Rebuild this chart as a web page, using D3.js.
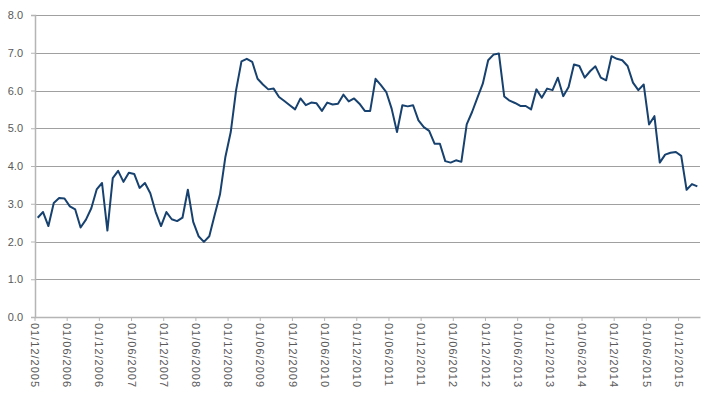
<!DOCTYPE html>
<html>
<head>
<meta charset="utf-8">
<script src="https://cdn.jsdelivr.net/npm/d3@7"></script>
<style>
  body { margin: 0; background: #fff; }
  svg { display: block; font-family: "DejaVu Sans", Verdana, sans-serif; }
</style>
</head>
<body>
<div class="chart"></div>
<script>
// monthly values, Dec 2005 .. Mar 2016
const startYear = 2005;
const startMonth = 11; // December (0-based)
const values = [
  2.63, 2.78, 2.41, 3.02, 3.15, 3.14, 2.93, 2.85, 2.37, 2.58, 2.88, 3.38,
  3.55, 2.29, 3.68, 3.87, 3.58, 3.82, 3.79, 3.42, 3.55, 3.28, 2.78, 2.41,
  2.78, 2.59, 2.54, 2.63, 3.37, 2.52, 2.14, 1.99, 2.14, 2.70, 3.25, 4.24,
  4.90, 6.01, 6.77, 6.84, 6.76, 6.31, 6.16, 6.03, 6.05, 5.83, 5.72, 5.61,
  5.50, 5.79, 5.61, 5.68, 5.66, 5.46, 5.68, 5.63, 5.65, 5.89, 5.71, 5.79,
  5.65, 5.46, 5.46, 6.31, 6.14, 5.96, 5.52, 4.90, 5.61, 5.58, 5.61, 5.21,
  5.03, 4.93, 4.59, 4.59, 4.13, 4.09, 4.15, 4.11, 5.10, 5.43, 5.81, 6.18,
  6.80, 6.95, 6.98, 5.84, 5.73, 5.67, 5.59, 5.59, 5.50, 6.03, 5.81, 6.05,
  6.01, 6.34, 5.85, 6.09, 6.69, 6.65, 6.34, 6.51, 6.64, 6.34, 6.27, 6.91,
  6.84, 6.80, 6.65, 6.21, 6.01, 6.16, 5.10, 5.32, 4.09, 4.30, 4.35, 4.37,
  4.27, 3.37, 3.52, 3.46
];
const yTicks = [0, 1, 2, 3, 4, 5, 6, 7, 8];

const pad = n => (n < 10 ? "0" : "") + n;
const months = values.map((v, i) => {
  const d = new Date(startYear, startMonth + i, 1);
  return "01/" + pad(d.getMonth() + 1) + "/" + d.getFullYear();
});
const data = months.map((m, i) => ({ label: m, value: values[i] }));
const tickLabels = months.filter((m, i) => i % 6 === 0);

const width = 709;
const height = 398;
const plotLeft = 35, plotRight = 700, plotTop = 15, plotBottom = 317;

const svg = d3.select(".chart").append("svg")
  .attr("width", width)
  .attr("height", height);

const xScale = d3.scaleBand()
  .domain(months)
  .range([plotLeft, plotRight])
  .padding(0);

const yScale = d3.scaleLinear()
  .domain([0, 8])
  .range([plotBottom, plotTop]);

// gridlines
svg.append("g")
  .selectAll("line")
  .data(yTicks.filter(t => t > 0))
  .enter()
  .append("line")
  .attr("x1", plotLeft)
  .attr("x2", plotRight)
  .attr("y1", d => Math.round(yScale(d)) + 0.5)
  .attr("y2", d => Math.round(yScale(d)) + 0.5)
  .attr("stroke", "#a0a0a0")
  .attr("stroke-width", 1);

// y axis
const yAxis = svg.append("g")
  .attr("transform", `translate(${plotLeft},0)`)
  .call(d3.axisLeft(yScale).tickValues(yTicks).tickFormat(d3.format(".1f")).tickSize(4).tickPadding(8));
yAxis.select(".domain").attr("stroke", "#b5b5b5").attr("stroke-width", 1.5);
yAxis.selectAll(".tick line").attr("stroke", "#b5b5b5");
yAxis.selectAll("text").attr("fill", "#595959").style("font-size", "11px");

// x axis
const xAxis = svg.append("g")
  .attr("transform", `translate(0,${plotBottom})`)
  .call(d3.axisBottom(xScale).tickValues(tickLabels).tickSize(4).tickSizeOuter(0));
xAxis.select(".domain").attr("stroke", "#b5b5b5").attr("stroke-width", 1.5);
xAxis.selectAll(".tick")
  .attr("transform", d => `translate(${xScale(d)},0)`);
xAxis.selectAll(".tick line").attr("stroke", "#b5b5b5");
xAxis.selectAll(".tick text")
  .attr("fill", "#595959")
  .style("font-size", "11px")
  .style("letter-spacing", "1px")
  .attr("text-anchor", "start")
  .attr("dy", "0.35em")
  .attr("x", 0)
  .attr("y", 0)
  .attr("transform", "translate(0,6) rotate(90)");

// line
const line = d3.line()
  .x(d => xScale(d.label) + xScale.bandwidth() / 2)
  .y(d => yScale(d.value));

svg.append("path")
  .datum(data)
  .attr("fill", "none")
  .attr("stroke", "#17416e")
  .attr("stroke-width", 2)
  .attr("stroke-linejoin", "round")
  .attr("d", line);
</script>
</body>
</html>
